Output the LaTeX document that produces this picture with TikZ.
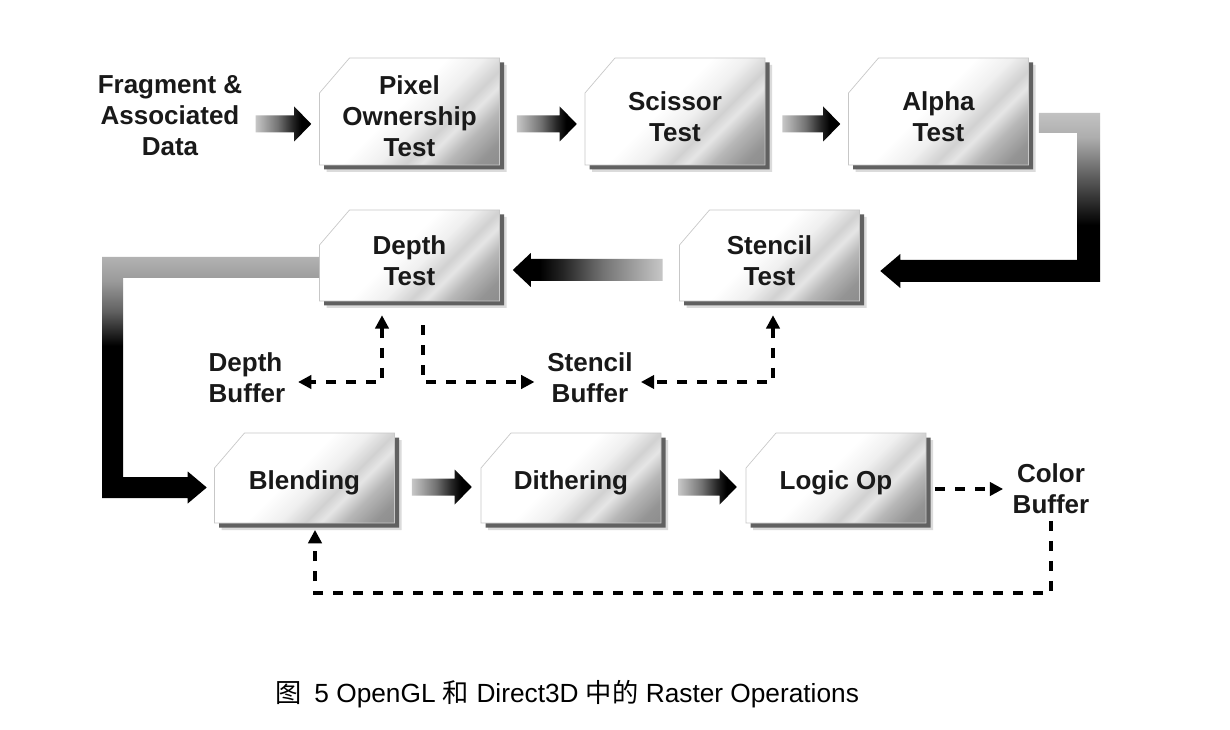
\documentclass[tikz,border=0pt]{standalone}
\usepackage{fontspec}
\setmainfont{Liberation Sans}
\newfontfamily\cjkfont{Noto Sans CJK SC}
\usetikzlibrary{arrows.meta,calc}

\pgfdeclarehorizontalshading{boxshade}{100bp}{color(0bp)=(white); color(46bp)=(white); color(55bp)=(black!6); color(62bp)=(black!18); color(66bp)=(black!10); color(72bp)=(black!28); color(80bp)=(black!42); color(100bp)=(black!52)}
\pgfdeclarehorizontalshading{fatshade}{100bp}{color(0bp)=(black!22); color(25bp)=(black!22); color(45bp)=(black!55); color(58bp)=(black!85); color(66bp)=(black); color(100bp)=(black)}
\pgfdeclareverticalshading{elbowA}{100bp}{color(0bp)=(black); color(43bp)=(black); color(58bp)=(black!60); color(68bp)=(black!32); color(75bp)=(black!24); color(100bp)=(black!24)}
\pgfdeclareverticalshading{elbowB}{100bp}{color(0bp)=(black); color(57bp)=(black); color(64bp)=(black!62); color(70bp)=(black!40); color(75bp)=(black!30); color(100bp)=(black!30)}

\newcommand\boxfont{\bfseries\fontsize{19.5pt}{23.25pt}\selectfont}
% chamfered box: name, cx, cy, half width, half height, text
\newcommand\cbox[6]{%
 \begin{scope}[shift={(#2,#3)}]
  \fill[black!14] (-#4+7,-#5+7+35) -- (-#4+7+30,-#5+7) -- (#4+7,-#5+7) -- (#4+7,#5+7) -- (-#4+7,#5+7) -- cycle;
  \fill[black!62] (-#4+4.5,-#5+4.5+35) -- (-#4+4.5+30,-#5+4.5) -- (#4+4.5,-#5+4.5) -- (#4+4.5,#5+4.5) -- (-#4+4.5,#5+4.5) -- cycle;
  \path[boxbody] (-#4,-#5+35) -- (-#4+30,-#5) -- (#4,-#5) -- (#4,#5) -- (-#4,#5) -- cycle;
 \end{scope}
 \node[boxlab, minimum width={1.5*#4}, minimum height={1.5*#5-7.5}] (#1) at (#2,#3+5) {#6};}
\newcommand\fatR[2]{\path[shade,shading=fatshade] ($(#1)+(0,-8.5)$) -- ($(#2)+(-17,-8.5)$) -- ($(#2)+(-17,-17.5)$) -- (#2) -- ($(#2)+(-17,17.5)$) -- ($(#2)+(-17,8.5)$) -- ($(#1)+(0,8.5)$) -- cycle;}
\newcommand\fatconn[5]{\coordinate (fa) at ($(#1)+(#4,#3)$); \coordinate (fb0) at (#2 |- fa); \coordinate (fb) at ($(fb0)+(-#5,0)$); \fatR{fa}{fb}}

\begin{document}
\begin{tikzpicture}[x=0.75pt,y=-0.75pt,
 boxbody/.style={shade, shading=boxshade, shading angle=-45, draw=black!22, line width=0.5pt},
 boxlab/.style={font=\boxfont, align=center, inner sep=0pt, text=black!90},
 lab/.style={font=\boxfont, align=center, inner sep=0pt, text=black!90},
 darr/.style={line width=2.4pt, dash pattern=on 7.5pt off 7.5pt},
 >={Triangle[length=10pt,width=10pt]}
]
\useasboundingbox (0,0) rectangle (1230,730);
\fill[white] (0,0) rectangle (1230,730);

% boxes
\cbox{pix}{409.5}{111.5}{90}{53.5}{Pixel\\Ownership\\Test}
\cbox{sci}{675}{111.5}{90}{53.5}{Scissor\\Test}
\cbox{alp}{938.5}{111.5}{90}{53.5}{Alpha\\Test}
\cbox{sten}{769.5}{255.5}{90}{45.5}{Stencil\\Test}
\cbox{dep}{409.5}{255.5}{90}{45.5}{Depth\\Test}
\cbox{ble}{304.5}{478}{90}{45}{Blending}
\cbox{dit}{571}{478}{90}{45}{Dithering}
\cbox{log}{836}{478}{90}{45}{Logic Op}

% labels
\node[lab] (frag) at (170,116) {Fragment \&\\Associated\\Data};
\node[lab, align=left] (db) at (247,378) {Depth\\Buffer};
\node[lab] (sb) at (590,378) {Stencil\\Buffer};
\node[lab] (cb) at (1051,489) {Color\\Buffer};

% fat arrows
\fatconn{frag.east}{pix.west}{8}{13}{8}
\fatconn{pix.east}{sci.west}{7.5}{17}{8}
\fatconn{sci.east}{alp.west}{7.5}{17}{8}
\fatconn{ble.east}{dit.west}{4}{17}{9}
\fatconn{dit.east}{log.west}{4}{17}{9}

% stencil -> depth
\coordinate (ra) at ($(sten.west)+(-16.5,9.5)$);
\coordinate (rb0) at (dep.east |- ra);
\coordinate (rb) at ($(rb0)+(13,0)$);
\path[shade,shading=fatshade,shading angle=180] ($(ra)+(0,-11)$) -- ($(rb)+(18,-11)$) -- ($(rb)+(18,-17)$) -- (rb) -- ($(rb)+(18,17)$) -- ($(rb)+(18,11)$) -- ($(ra)+(0,11)$) -- cycle;

% alpha -> stencil elbow
\coordinate (e1) at ($(alp.east)+(10,-3.5)$);
\coordinate (e11) at ($(alp.east)+(10,16.5)$);
\coordinate (etip) at ($(sten.east)+(20.5,10.5)$);
\coordinate (ebot) at ($(etip)+(20,11)$);
\coordinate (etop) at ($(etip)+(20,-11)$);
\coordinate (ehi) at ($(etip)+(20,-17)$);
\coordinate (elo) at ($(etip)+(20,17)$);
\coordinate (eo) at (1100,0);
\coordinate (ei) at (1077,0);
\path[shade,shading=elbowA] (e1) -- (eo |- e1) -- (eo |- ebot) -- (ebot) -- (elo) -- (etip) -- (ehi) -- (etop) -- (ei |- etop) -- (ei |- e11) -- (e11) -- cycle;

% depth -> blending elbow
\coordinate (d1) at ($(dep.west)+(0,-3.5)$);
\coordinate (d11) at ($(dep.west)+(0,17.5)$);
\coordinate (dtip) at ($(ble.west)+(-7.5,4.5)$);
\coordinate (dbot) at ($(dtip)+(-19,10.5)$);
\coordinate (dtop) at ($(dtip)+(-19,-10.5)$);
\coordinate (dhi) at ($(dtip)+(-19,-16)$);
\coordinate (dlo) at ($(dtip)+(-19,16)$);
\coordinate (dout) at (102,0);
\coordinate (din) at (123,0);
\path[shade,shading=elbowB] (d1) -- (dout |- d1) -- (dout |- dbot) -- (dbot) -- (dlo) -- (dtip) -- (dhi) -- (dtop) -- (din |- dtop) -- (din |- d11) -- (d11) -- cycle;

% dashed connectors
\coordinate (dj) at (382,382);
\draw[darr,<->,shorten <=10.5pt, shorten >=9.4pt] (dj |- dep.south) -- (dj) -- (db.east |- dj);
\coordinate (dk) at (423,382);
\draw[darr,->,shorten <=18pt, shorten >=9.5pt] (dk |- dep.south) -- (dk) -- (sb.west |- dk);
\coordinate (sj) at (773,382);
\draw[darr,<->,shorten <=10.5pt, shorten >=6pt] (sj |- sten.south) -- (sj) -- (sb.east |- sj);
\draw[darr,->,shorten <=6.75pt, shorten >=7pt] (log.east |- cb.west) -- (cb.west);
\coordinate (cl) at (315,593);
\draw[darr,->,shorten <=5pt, shorten >=5pt] (cb.south) -- (cb.south |- cl) -- (cl) -- (cl |- ble.south);

% caption
\node[inner sep=0pt, font=\fontsize{19.7pt}{23pt}\selectfont] (cap) at (567,694) {{\cjkfont 图}\hspace{0.5em}5 OpenGL {\cjkfont 和} Direct3D {\cjkfont 中的} Raster Operations};
\end{tikzpicture}
\end{document}
